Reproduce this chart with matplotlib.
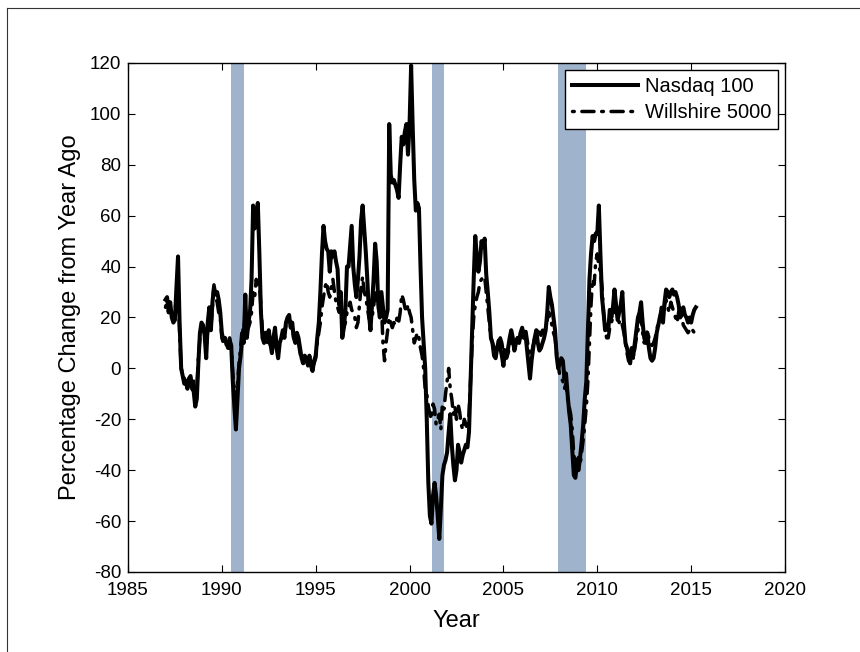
import numpy as np
import matplotlib.pyplot as plt
from matplotlib.lines import Line2D

plt.rcParams['font.family'] = ['Liberation Sans', 'DejaVu Sans']
plt.rcParams['axes.unicode_minus'] = False

# monthly year-over-year % change, Jan 1987 .. Apr 2015
nasdaq_100 = [
    27, 28, 22, 26, 20, 18, 19, 32, 44, 18, 0, -3,            # 1987
    -6, -5, -8, -4, -3, -8, -9, -15, -12, 2, 14, 18,          # 1988
    17, 13, 4, 18, 24, 15, 26, 32, 29, 30, 27, 22,            # 1989
    14, 11, 12, 10, 8, 11, 9, -5, -15, -24, -12, 0,           # 1990
    5, 12, 10, 29, 12, 18, 22, 35, 64, 55, 58, 65,            # 1991
    45, 22, 12, 10, 14, 12, 15, 10, 6, 12, 16, 8,             # 1992
    4, 10, 12, 15, 12, 18, 20, 21, 16, 18, 12, 10,            # 1993
    14, 12, 8, 4, 2, 5, 4, 2, 5, 1, -1, 3,                    # 1994
    5, 12, 18, 30, 45, 56, 50, 47, 46, 38, 46, 44,            # 1995
    46, 42, 39, 25, 30, 12, 16, 23, 40, 40, 48, 56,           # 1996
    40, 33, 28, 35, 44, 58, 64, 55, 46, 35, 22, 15,           # 1997
    25, 35, 49, 42, 25, 20, 30, 24, 18, 20, 23, 96,           # 1998
    76, 73, 74, 72, 70, 67, 80, 91, 88, 93, 96, 84,           # 1999
    96, 119, 95, 74, 62, 65, 63, 40, 20, 10, 0, -20,          # 2000
    -45, -58, -61, -50, -45, -50, -58, -67, -55, -42, -38, -36,  # 2001
    -33, -25, -18, -30, -38, -44, -40, -30, -33, -37, -34, -32,  # 2002
    -30, -31, -25, -5, 15, 35, 52, 44, 38, 42, 50, 48,        # 2003
    51, 37, 30, 22, 12, 10, 5, 4, 8, 11, 8, 5,                # 2004
    1, 7, 5, 8, 12, 15, 12, 7, 10, 12, 10, 14,                # 2005
    16, 12, 14, 8, 2, -4, 3, 8, 12, 15, 10, 7,                # 2006
    8, 10, 12, 15, 22, 32, 28, 25, 20, 15, 5, 0,              # 2007
    2, 4, 3, -4, -2, -10, -17, -22, -32, -42, -43, -38,       # 2008
    -40, -35, -29, -22, -12, -5, 15, 35, 45, 52, 50, 53,      # 2009
    53, 64, 45, 28, 22, 15, 17, 15, 23, 20, 24, 31,           # 2010
    25, 19, 22, 25, 30, 18, 10, 8, 5, 2, 8, 5,                # 2011
    10, 15, 20, 22, 26, 18, 12, 10, 14, 8, 4, 3,              # 2012
    4, 8, 14, 17, 20, 22, 18, 26, 31, 30, 28, 30,             # 2013
    31, 29, 30, 28, 25, 20, 22, 24, 21, 20, 18, 20,           # 2014
    18, 21, 23, 24,                                           # 2015
]

willshire_5000 = [
    24, 27, 25, 23, 20, 20, 22, 28, 33, 14, 0, -2,            # 1987
    -4, -6, -6, -3, -4, -7, -5, -10, -8, 4, 12, 15,           # 1988
    14, 15, 8, 15, 20, 16, 24, 33, 28, 26, 22, 20,            # 1989
    12, 10, 11, 9, 10, 12, 8, -2, -8, -12, -6, 2,             # 1990
    8, 16, 14, 22, 15, 16, 18, 22, 30, 28, 35, 32,            # 1991
    34, 24, 14, 12, 13, 10, 12, 9, 8, 11, 14, 10,             # 1992
    8, 10, 12, 13, 14, 17, 18, 20, 17, 16, 12, 11,            # 1993
    13, 10, 6, 3, 2, 4, 3, 1, 3, 0, -1, 2,                    # 1994
    4, 10, 14, 18, 24, 28, 32, 34, 30, 28, 32, 35,            # 1995
    30, 26, 24, 22, 25, 18, 16, 18, 22, 24, 26, 23,           # 1996
    22, 20, 16, 18, 25, 32, 36, 30, 28, 24, 20, 18,           # 1997
    20, 24, 30, 27, 24, 22, 25, 10, 3, 10, 15, 20,            # 1998
    18, 16, 18, 17, 20, 18, 22, 29, 27, 24, 22, 25,           # 1999
    22, 20, 15, 10, 12, 14, 12, 8, 5, 0, -8, -10,             # 2000
    -15, -18, -20, -14, -16, -22, -20, -18, -24, -14, -16, -10,  # 2001
    -5, 0, -8, -12, -18, -15, -20, -14, -17, -22, -24, -20,   # 2002
    -22, -24, -18, -5, 10, 20, 25, 28, 30, 34, 35, 36,        # 2003
    36, 30, 24, 18, 12, 10, 8, 6, 9, 10, 12, 10,              # 2004
    6, 8, 4, 6, 9, 12, 10, 8, 12, 9, 10, 14,                  # 2005
    15, 13, 16, 12, 8, 5, 6, 9, 12, 14, 16, 14,               # 2006
    13, 15, 13, 16, 19, 22, 20, 17, 14, 12, 6, 2,             # 2007
    -3, -4, -5, -8, -6, -12, -15, -18, -24, -34, -38, -36,    # 2008
    -35, -38, -33, -28, -22, -15, -5, 10, 25, 35, 33, 42,     # 2009
    45, 40, 38, 32, 22, 15, 12, 12, 16, 18, 20, 24,           # 2010
    22, 20, 18, 19, 17, 14, 10, 6, 3, 2, 5, 4,                # 2011
    8, 12, 15, 18, 20, 14, 10, 12, 15, 12, 10, 9,             # 2012
    10, 12, 15, 18, 20, 24, 20, 25, 27, 24, 22, 26,           # 2013
    24, 22, 20, 18, 22, 24, 20, 17, 16, 15, 14, 15,           # 2014
    14, 15, 14, 13,                                           # 2015
]

# NBER recessions (start, end) in decimal years
recessions = [(1990.5, 1991.17), (2001.17, 2001.83), (2007.92, 2009.42)]

years = 1987 + np.arange(len(nasdaq_100)) / 12.0

fig = plt.figure(figsize=(8.6, 6.52), dpi=100)
ax = fig.add_axes([0.1488, 0.1227, 0.764, 0.7807])

for start, end in recessions:
    ax.axvspan(start, end, color='#9fb4cc', lw=0, zorder=1)

ax.plot(years, nasdaq_100, color='black', lw=2.9, label='Nasdaq 100',
        solid_joinstyle='round', zorder=3)
ax.plot(years, willshire_5000, color='black', lw=2.5, label='Willshire 5000',
        linestyle=(0, (0.5, 2.2, 3.5, 2.2)), dash_capstyle='round', zorder=2)

ax.set_xlim(1985, 2020)
ax.set_ylim(-80, 120)
ax.set_xticks(np.arange(1985, 2021, 5))
ax.set_yticks(np.arange(-80, 121, 20))
ax.tick_params(direction='in', length=5, width=0.8, labelsize=13.5,
               top=True, right=True)
ax.tick_params(axis='x', pad=7)
ax.tick_params(axis='y', pad=5)
for s in ax.spines.values():
    s.set_linewidth(1.0)

ax.set_xlabel('Year', fontsize=17, labelpad=8)
ax.set_ylabel('Percentage Change from Year Ago', fontsize=17, labelpad=6)

leg = ax.legend(loc='upper right', fontsize=14.5, frameon=True, fancybox=False,
                edgecolor='black', framealpha=1, handlelength=3.3,
                borderaxespad=0.35, borderpad=0.35, labelspacing=0.35,
                handletextpad=0.3)
leg.get_frame().set_linewidth(1.0)

# thin frame around the figure, top and left edges
fig.add_artist(Line2D([0.008, 1.0], [0.988, 0.988], color='#333333', lw=0.8,
                      transform=fig.transFigure))
fig.add_artist(Line2D([0.008, 0.008], [0.0, 0.988], color='#333333', lw=0.8,
                      transform=fig.transFigure))

fig.savefig('out.png', dpi=100)
